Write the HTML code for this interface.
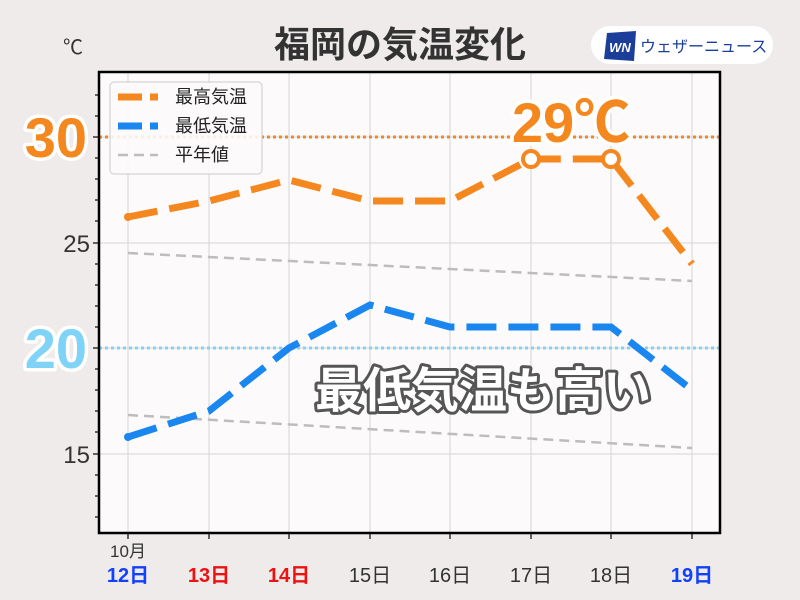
<!DOCTYPE html>
<html><head><meta charset="utf-8"><style>
html,body{margin:0;padding:0;background:#eeebea;}
svg{display:block;font-family:"Liberation Sans","Noto Sans CJK JP",sans-serif;}
</style></head><body>
<svg width="800" height="600" viewBox="0 0 800 600" xmlns="http://www.w3.org/2000/svg">
<rect width="800" height="600" fill="#eeebea"/>
<text x="400" y="57" text-anchor="middle" font-size="36" font-weight="bold" fill="#333">福岡の気温変化</text>
<rect x="591" y="26" width="182" height="38" rx="19" fill="#fff"/>
<polygon points="607,33 636,31 634,61 604,59" fill="#1a3e9a"/>
<text x="620" y="52" text-anchor="middle" font-size="13" font-style="italic" font-weight="bold" fill="#fff">WN</text>
<text x="640" y="52" font-size="16" fill="#1a3e9a">ウェザーニュース</text>
<text x="63" y="54" font-size="20" fill="#333">℃</text>
<rect x="99" y="72" width="621" height="461" fill="#fcfafb"/>
<g stroke="#d6d6d6" stroke-width="1">
<line x1="128" y1="72" x2="128" y2="533"/><line x1="209" y1="72" x2="209" y2="533"/>
<line x1="289" y1="72" x2="289" y2="533"/><line x1="370" y1="72" x2="370" y2="533"/>
<line x1="450" y1="72" x2="450" y2="533"/><line x1="531" y1="72" x2="531" y2="533"/>
<line x1="611" y1="72" x2="611" y2="533"/><line x1="692" y1="72" x2="692" y2="533"/>
<line x1="99" y1="137" x2="720" y2="137"/><line x1="99" y1="243" x2="720" y2="243"/>
<line x1="99" y1="348" x2="720" y2="348"/><line x1="99" y1="454" x2="720" y2="454"/>
</g>
<g stroke="#333" stroke-width="1.5">
<line x1="93" y1="137" x2="99" y2="137"/><line x1="93" y1="243" x2="99" y2="243"/>
<line x1="93" y1="348" x2="99" y2="348"/><line x1="93" y1="454" x2="99" y2="454"/>
<line x1="95" y1="95" x2="99" y2="95"/><line x1="95" y1="116" x2="99" y2="116"/><line x1="95" y1="158" x2="99" y2="158"/><line x1="95" y1="179" x2="99" y2="179"/><line x1="95" y1="200" x2="99" y2="200"/><line x1="95" y1="221" x2="99" y2="221"/><line x1="95" y1="264" x2="99" y2="264"/><line x1="95" y1="285" x2="99" y2="285"/><line x1="95" y1="306" x2="99" y2="306"/><line x1="95" y1="327" x2="99" y2="327"/><line x1="95" y1="369" x2="99" y2="369"/><line x1="95" y1="390" x2="99" y2="390"/><line x1="95" y1="411" x2="99" y2="411"/><line x1="95" y1="432" x2="99" y2="432"/><line x1="95" y1="475" x2="99" y2="475"/><line x1="95" y1="496" x2="99" y2="496"/><line x1="95" y1="517" x2="99" y2="517"/>
<line x1="128" y1="533" x2="128" y2="539"/><line x1="209" y1="533" x2="209" y2="539"/><line x1="289" y1="533" x2="289" y2="539"/><line x1="370" y1="533" x2="370" y2="539"/><line x1="450" y1="533" x2="450" y2="539"/><line x1="531" y1="533" x2="531" y2="539"/><line x1="611" y1="533" x2="611" y2="539"/><line x1="692" y1="533" x2="692" y2="539"/>
</g>
<line x1="99" y1="137" x2="720" y2="137" stroke="#f5871f" stroke-width="3" stroke-dasharray="3,3"/>
<line x1="99" y1="348" x2="720" y2="348" stroke="#7fd3f7" stroke-width="3" stroke-dasharray="3,3"/>
<g fill="none" stroke="#bdbdbd" stroke-width="2.5" stroke-dasharray="10,6">
<line x1="128" y1="253" x2="692" y2="281"/><line x1="128" y1="415" x2="692" y2="448"/>
</g>
<g fill="none" stroke-width="7" stroke-dasharray="30,12">
<polyline stroke="#f5871f" points="128,217 209,201 289,180 370,201 450,201 531,159 611,159 692,264"/>
<polyline stroke="#1a86f0" points="128,437 209,411 289,348 370,305 450,327 531,327 611,327 692,390"/>
</g>
<circle cx="128" cy="217" r="4" fill="#f5871f"/><circle cx="128" cy="437" r="4" fill="#1a86f0"/>
<circle cx="531" cy="159" r="8" fill="#fff" stroke="#f5871f" stroke-width="4"/>
<circle cx="611" cy="159" r="8" fill="#fff" stroke="#f5871f" stroke-width="4"/>
<rect x="99" y="72" width="621" height="461" fill="none" stroke="#000" stroke-width="2.5"/>
<rect x="110" y="82" width="152" height="92" rx="4" fill="#fcfafb" fill-opacity="0.9" stroke="#ccc"/>
<line x1="118" y1="97" x2="158" y2="97" stroke="#f5871f" stroke-width="7" stroke-dasharray="24,8"/>
<line x1="118" y1="126" x2="158" y2="126" stroke="#1a86f0" stroke-width="7" stroke-dasharray="24,8"/>
<line x1="118" y1="155" x2="158" y2="155" stroke="#bdbdbd" stroke-width="2.5" stroke-dasharray="10,6"/>
<g font-size="18" fill="#222"><text x="175" y="103">最高気温</text><text x="175" y="132">最低気温</text><text x="175" y="161">平年値</text></g>
<g font-size="24" fill="#333" text-anchor="end"><text x="90" y="252">25</text><text x="90" y="463">15</text></g>
<g font-size="56" font-weight="bold" text-anchor="end" stroke="#fff" stroke-width="7" paint-order="stroke" stroke-linejoin="round">
<text x="87" y="157" fill="#f5871f">30</text><text x="87" y="368" fill="#7fd3f7">20</text></g>
<text x="571" y="142" text-anchor="middle" font-size="56" fill="#f5871f" stroke="#fff" stroke-width="7" paint-order="stroke" stroke-linejoin="round" font-weight="bold">29℃</text>
<text x="483" y="407" text-anchor="middle" font-size="48" font-weight="bold" fill="#fff" stroke="#555" stroke-width="6" paint-order="stroke" stroke-linejoin="round">最低気温も高い</text>
<text x="128" y="557" text-anchor="middle" font-size="17" fill="#333">10月</text>
<g font-size="20" text-anchor="middle" font-weight="bold">
<text x="128" y="582" fill="#1240ff">12日</text><text x="209" y="582" fill="#ee1111">13日</text><text x="289" y="582" fill="#ee1111">14日</text>
<text x="370" y="582" fill="#333" font-weight="normal">15日</text><text x="450" y="582" fill="#333" font-weight="normal">16日</text><text x="531" y="582" fill="#333" font-weight="normal">17日</text><text x="611" y="582" fill="#333" font-weight="normal">18日</text>
<text x="692" y="582" fill="#1240ff">19日</text></g>
</svg>
</body></html>
